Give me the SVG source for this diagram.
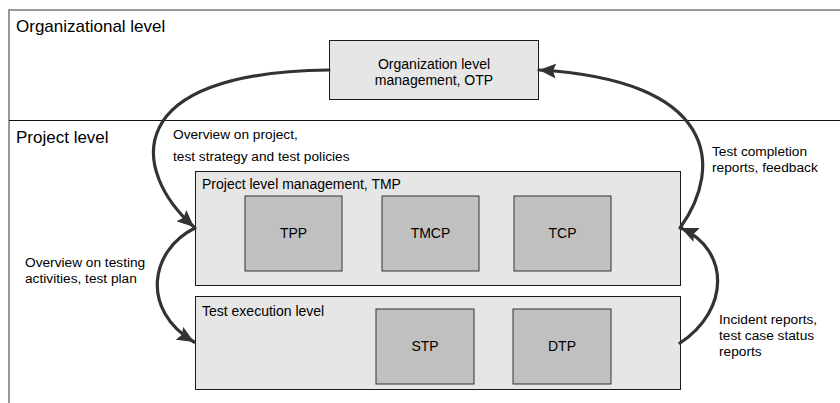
<svg xmlns="http://www.w3.org/2000/svg" width="840" height="403" viewBox="0 0 840 403">
<defs>
<style>
text{font-family:"Liberation Sans",Arial,sans-serif;fill:#000}
.title{font-size:17px}
.lbl{font-size:13.7px}
.box{font-size:14px}
.mid{text-anchor:middle}
.light{fill:#e6e6e6;stroke:#1a1a1a;stroke-width:1}
.dark{fill:#c0c0c0;stroke:#333;stroke-width:1}
.conn{fill:none;stroke:#333;stroke-width:3.2;stroke-linecap:round}
</style>
<marker id="ah" markerUnits="userSpaceOnUse" markerWidth="18" markerHeight="15" refX="17" refY="7.5" orient="auto">
<path d="M0,0 L17,7.5 L0,15 L3,7.5 Z" fill="#333"/>
</marker>
</defs>
<rect width="840" height="403" fill="#fff"/>
<g id="frame">
<path d="M9,403 L9,10 L840,10" fill="none" stroke="#777" stroke-width="1.5"/>
<line x1="9" y1="120.5" x2="840" y2="120.5" stroke="#111" stroke-width="1.2"/>
<text class="title" x="16" y="32">Organizational level</text>
<text class="title" x="16" y="143">Project level</text>
</g>
<g id="otp">
<rect class="light" x="329.5" y="40.5" width="209" height="59"/>
<text class="box mid" x="434" y="69">Organization level</text>
<text class="box mid" x="434" y="85">management, OTP</text>
</g>
<g id="tmp">
<rect class="light" x="195.5" y="171.5" width="485" height="114"/>
<text class="box" x="202" y="189">Project level management, TMP</text>
</g>
<g id="tpp">
<rect class="dark" x="245" y="196" width="97" height="75"/>
<text class="box mid" x="293.5" y="238">TPP</text>
</g>
<g id="tmcp">
<rect class="dark" x="382" y="196" width="97" height="75"/>
<text class="box mid" x="430.5" y="238">TMCP</text>
</g>
<g id="tcp">
<rect class="dark" x="514" y="196" width="97" height="75"/>
<text class="box mid" x="562.5" y="238">TCP</text>
</g>
<g id="exec">
<rect class="light" x="195.5" y="296.5" width="485" height="93"/>
<text class="box" x="202" y="316">Test execution level</text>
</g>
<g id="stp">
<rect class="dark" x="376" y="309" width="98" height="75"/>
<text class="box mid" x="425" y="351">STP</text>
</g>
<g id="dtp">
<rect class="dark" x="513" y="309" width="98" height="75"/>
<text class="box mid" x="562" y="351">DTP</text>
</g>
<g id="connectors">
<path class="conn" d="M329,70 C120,72 130,170 194,227" marker-end="url(#ah)"/>
<path class="conn" d="M195,228 C150,250 140,310 194,342" marker-end="url(#ah)"/>
<path class="conn" d="M680,343 C730,310 730,250 681,228" marker-end="url(#ah)"/>
<path class="conn" d="M680,228 C725,165 715,80 539,70" marker-end="url(#ah)"/>
</g>
<g id="labels">
<text class="lbl" x="173" y="139">Overview on project,</text>
<text class="lbl" x="173" y="161">test strategy and test policies</text>
<text class="lbl" x="712" y="156">Test completion</text>
<text class="lbl" x="712" y="172">reports, feedback</text>
<text class="lbl" x="25" y="267">Overview on testing</text>
<text class="lbl" x="25" y="283">activities, test plan</text>
<text class="lbl" x="719" y="324">Incident reports,</text>
<text class="lbl" x="719" y="340">test case status</text>
<text class="lbl" x="719" y="356">reports</text>
</g>
</svg>
